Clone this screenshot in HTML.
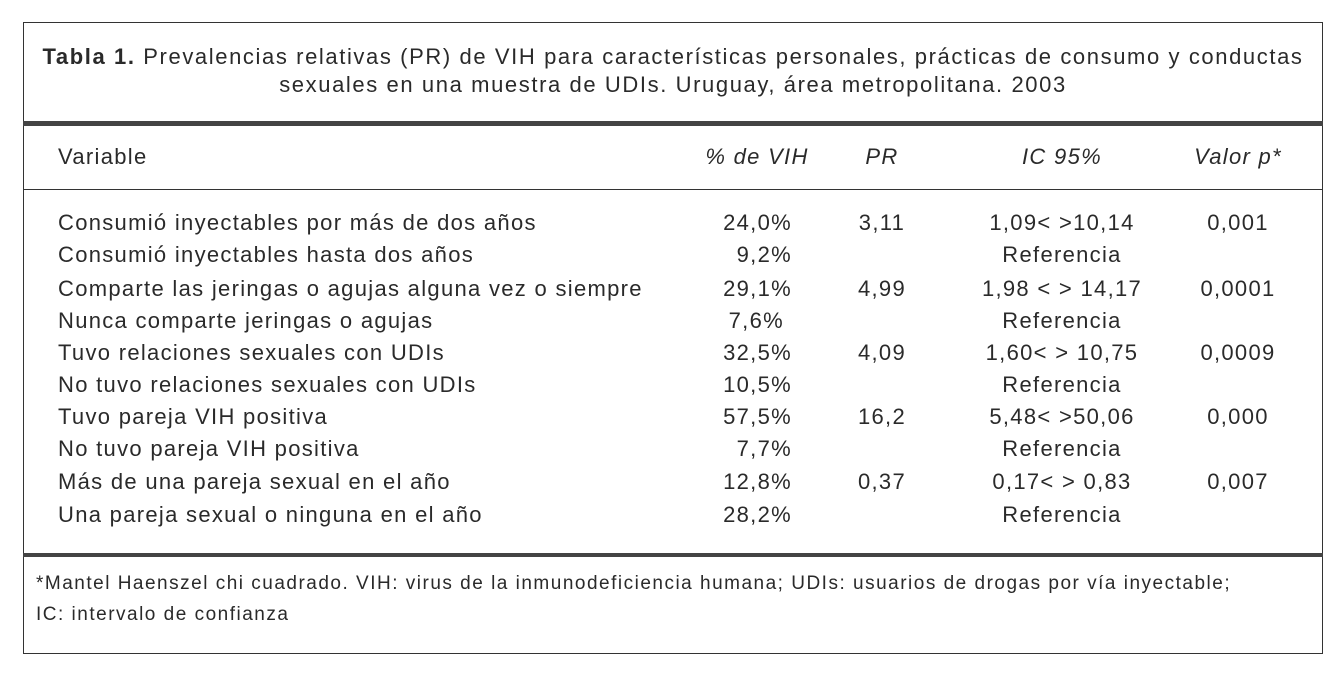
<!DOCTYPE html>
<html><head><meta charset="utf-8"><style>
body{margin:0;background:#fff;width:1339px;height:675px;position:relative;font-family:"Liberation Sans",sans-serif;color:#2a2a2a;overflow:hidden}
.b{position:absolute;background:#333}
.t{position:absolute;white-space:nowrap;font-size:22px;line-height:24px;letter-spacing:1.3px}
.c{transform:translateX(-50%)}
.r{transform:translateX(-100%)}
</style></head><body>
<div class="b" style="left:23px;top:22px;width:1300px;height:1px"></div>
<div class="b" style="left:23px;top:653px;width:1300px;height:1px"></div>
<div class="b" style="left:23px;top:22px;width:1px;height:632px"></div>
<div class="b" style="left:1322px;top:22px;width:1px;height:632px"></div>
<div class="b" style="left:23px;top:121px;width:1300px;height:5px;background:#444"></div>
<div class="b" style="left:23px;top:189px;width:1300px;height:1px"></div>
<div class="b" style="left:23px;top:553px;width:1300px;height:4px;background:#444"></div>

<div class="t c" style="left:673px;top:45px;font-size:22px;letter-spacing:1.6px"><b>Tabla 1.</b> Prevalencias relativas (PR) de VIH para características personales, prácticas de consumo y conductas</div>
<div class="t c" style="left:673px;top:73px;font-size:22px;letter-spacing:1.6px">sexuales en una muestra de UDIs. Uruguay, área metropolitana. 2003</div>

<div class="t" style="left:58px;top:145px">Variable</div>
<div class="t c" style="left:757px;top:145px;font-style:italic">% de VIH</div>
<div class="t c" style="left:882px;top:145px;font-style:italic">PR</div>
<div class="t c" style="left:1062px;top:145px;font-style:italic">IC 95%</div>
<div class="t c" style="left:1238px;top:145px;font-style:italic">Valor p*</div>

<div class="t" style="left:58px;top:211px">Consumió inyectables por más de dos años</div>
<div class="t r" style="left:792px;top:211px">24,0%</div>
<div class="t c" style="left:882px;top:211px">3,11</div>
<div class="t c" style="left:1062px;top:211px">1,09&lt; &gt;10,14</div>
<div class="t c" style="left:1238px;top:211px">0,001</div>

<div class="t" style="left:58px;top:243px">Consumió inyectables hasta dos años</div>
<div class="t r" style="left:792px;top:243px">9,2%</div>
<div class="t c" style="left:1062px;top:243px">Referencia</div>

<div class="t" style="left:58px;top:277px">Comparte las jeringas o agujas alguna vez o siempre</div>
<div class="t r" style="left:792px;top:277px">29,1%</div>
<div class="t c" style="left:882px;top:277px">4,99</div>
<div class="t c" style="left:1062px;top:277px">1,98 &lt; &gt; 14,17</div>
<div class="t c" style="left:1238px;top:277px">0,0001</div>

<div class="t" style="left:58px;top:309px">Nunca comparte jeringas o agujas</div>
<div class="t r" style="left:784px;top:309px">7,6%</div>
<div class="t c" style="left:1062px;top:309px">Referencia</div>

<div class="t" style="left:58px;top:341px">Tuvo relaciones sexuales con UDIs</div>
<div class="t r" style="left:792px;top:341px">32,5%</div>
<div class="t c" style="left:882px;top:341px">4,09</div>
<div class="t c" style="left:1062px;top:341px">1,60&lt; &gt; 10,75</div>
<div class="t c" style="left:1238px;top:341px">0,0009</div>

<div class="t" style="left:58px;top:373px">No tuvo relaciones sexuales con UDIs</div>
<div class="t r" style="left:792px;top:373px">10,5%</div>
<div class="t c" style="left:1062px;top:373px">Referencia</div>

<div class="t" style="left:58px;top:405px">Tuvo pareja VIH positiva</div>
<div class="t r" style="left:792px;top:405px">57,5%</div>
<div class="t c" style="left:882px;top:405px">16,2</div>
<div class="t c" style="left:1062px;top:405px">5,48&lt; &gt;50,06</div>
<div class="t c" style="left:1238px;top:405px">0,000</div>

<div class="t" style="left:58px;top:437px">No tuvo pareja VIH positiva</div>
<div class="t r" style="left:792px;top:437px">7,7%</div>
<div class="t c" style="left:1062px;top:437px">Referencia</div>

<div class="t" style="left:58px;top:470px">Más de una pareja sexual en el año</div>
<div class="t r" style="left:792px;top:470px">12,8%</div>
<div class="t c" style="left:882px;top:470px">0,37</div>
<div class="t c" style="left:1062px;top:470px">0,17&lt; &gt; 0,83</div>
<div class="t c" style="left:1238px;top:470px">0,007</div>

<div class="t" style="left:58px;top:503px">Una pareja sexual o ninguna en el año</div>
<div class="t r" style="left:792px;top:503px">28,2%</div>
<div class="t c" style="left:1062px;top:503px">Referencia</div>

<div class="t" style="left:36px;top:572px;font-size:19px;letter-spacing:1.5px">*Mantel Haenszel chi cuadrado. VIH: virus de la inmunodeficiencia humana; UDIs: usuarios de drogas por vía inyectable;</div>
<div class="t" style="left:36px;top:603px;font-size:19px;letter-spacing:1.5px">IC: intervalo de confianza</div>
</body></html>
